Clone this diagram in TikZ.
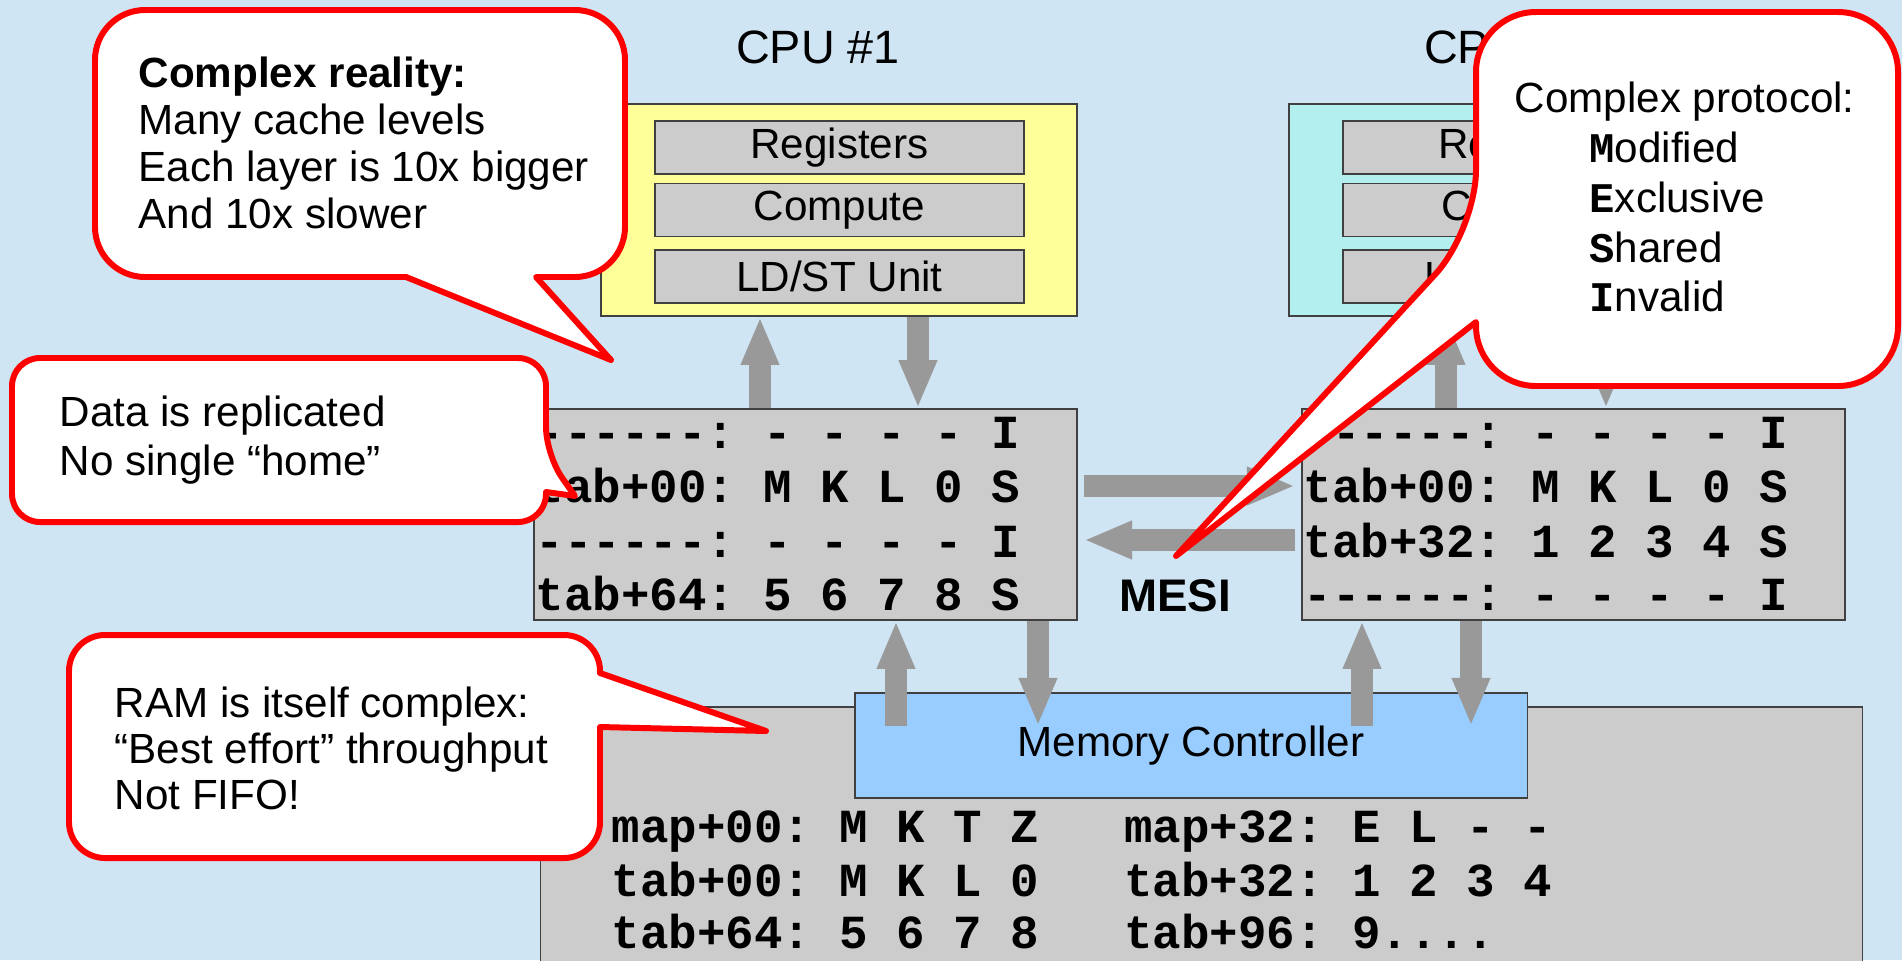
\documentclass[tikz,border=0pt]{standalone}
\usepackage{fontspec}
\setmainfont{Liberation Sans}
\setmonofont{Liberation Mono}
\usetikzlibrary{arrows.meta,positioning}
\definecolor{slidebg}{HTML}{CFE5F3}
\definecolor{cpuyellow}{HTML}{FFFF99}
\definecolor{cpucyan}{HTML}{B4EFEF}
\definecolor{unitgray}{HTML}{CCCCCC}
\definecolor{busgray}{HTML}{999999}
\definecolor{mcblue}{HTML}{99CCFF}
\definecolor{calloutred}{HTML}{FF0000}
\tikzset{%
  cpu/.style={draw=black!75,line width=0.4pt,minimum width=4.76cm,minimum height=2.12cm},
  unit/.style={draw=black!75,fill=unitgray,line width=0.4pt,inner sep=0pt,
    minimum width=3.69cm,minimum height=0.53cm,font=\fontsize{12}{14}\selectfont},
  cache/.style={draw=black!75,fill=unitgray,line width=0.4pt,minimum width=5.43cm,minimum height=2.11cm},
  row/.style={anchor=base west,inner sep=0pt,font=\ttfamily\bfseries\fontsize{13.5}{15}\selectfont},
  title/.style={inner sep=0pt,font=\fontsize{13.3}{15}\selectfont},
  bus/.style={draw=busgray,line width=6.3pt,-{Triangle[length=13.7pt,width=10pt]}},
  callout/.style={draw=calloutred,fill=white,line width=1.7pt,line join=round},
  note/.style={anchor=west,align=left,inner sep=0pt},
}

\begin{document}
\begin{tikzpicture}[x=0.01cm,y=-0.01cm]
  \useasboundingbox (0,0) rectangle (1902,960);
  \fill[slidebg] (0,0) rectangle (1902,960);
  \clip (0,0) rectangle (1902,960);

  % the two cores
  \node[cpu,fill=cpuyellow] (cpu1) at (839,210) {};
  \node[cpu,fill=cpucyan] (cpu2) at (1527,210) {};
  \node[title,anchor=base] (cpu1lbl) at (818,63) {CPU \#1};
  \node[title,anchor=base] (cpu2lbl) at (1506,63) {CPU \#2};
  \node[unit] (reg1) at (839.5,147.5) {Registers};
  \node[unit,below=0.08cm of reg1] (cmp1) {Compute};
  \node[unit,below=0.12cm of cmp1] (ldst1) {LD/ST Unit};
  \node[unit] (reg2) at (1527.5,147.5) {Registers};
  \node[unit,below=0.08cm of reg2] (cmp2) {Compute};
  \node[unit,below=0.12cm of cmp2] (ldst2) {LD/ST Unit};

  % caches
  \node[cache] (cache1) at (805.5,514.5) {};
  \node[cache] (cache2) at (1573.5,514.5) {};
  \node[row] (c1r1) at (535,448) {------: - - - - I};
  \node[row] (c1r2) at (535,502) {tab+00: M K L 0 S};
  \node[row] (c1r3) at (535,557) {------: - - - - I};
  \node[row] (c1r4) at (535,610) {tab+64: 5 6 7 8 S};
  \node[row] (c2r1) at (1303,448) {------: - - - - I};
  \node[row] (c2r2) at (1303,502) {tab+00: M K L 0 S};
  \node[row] (c2r3) at (1303,557) {tab+32: 1 2 3 4 S};
  \node[row] (c2r4) at (1303,610) {------: - - - - I};

  % main memory
  \node[draw=black!75,fill=unitgray,line width=0.4pt,minimum width=13.21cm,minimum height=3cm] (ram) at (1201.5,857) {};
  \node[draw=black!75,fill=mcblue,line width=0.4pt,minimum width=6.72cm,minimum height=1.05cm,
    font=\fontsize{12}{14}\selectfont] (mc) at (1191,745.5) {Memory Controller};
  \node[row] (ram1) at (611,842) {map+00: M K T Z~~~map+32: E L - -};
  \node[row] (ram2) at (611,896) {tab+00: M K L 0~~~tab+32: 1 2 3 4};
  \node[row] (ram3) at (611,948) {tab+64: 5 6 7 8~~~tab+96: 9....};
  \coordinate (mcin) at (0,726);

  \draw[bus] (760,0 |- cache1.north) -- (760,0 |- cpu1.south);
  \draw[bus] (918,0 |- cpu1.south) -- (918,0 |- cache1.north);
  \draw[bus] (1446,0 |- cache2.north) -- (1446,0 |- cpu2.south);
  \draw[bus] (1606,0 |- cpu2.south) -- (1606,0 |- cache2.north);
  \draw[bus] (896,0 |- mcin) -- (896,0 |- cache1.south);
  \draw[bus] (1038,0 |- cache1.south) -- (1038,0 |- mcin);
  \draw[bus] (1362,0 |- mcin) -- (1362,0 |- cache2.south);
  \draw[bus] (1471,0 |- cache2.south) -- (1471,0 |- mcin);
  \draw[bus,shorten <=0.06cm,shorten >=0.06cm] (cache1.east |- 0,486) -- (cache2.west |- 0,486);
  \draw[bus,shorten <=0.06cm,shorten >=0.06cm] (cache2.west |- 0,540) -- (cache1.east |- 0,540);
  \node[font=\bfseries\fontsize{13}{15}\selectfont] (mesi) at (1175,596) {MESI};

  % callouts
  \draw[callout] (406,277) [rounded corners=0.5cm] -- (95,277) -- (95,10) -- (625,10) -- (625,277)
    [sharp corners] -- (536,277) -- (611,360) -- cycle;
  \node[note,font=\fontsize{12}{13.3}\selectfont] (reality) at (138,143)
    {\textbf{Complex reality:}\\Many cache levels\\Each layer is 10x bigger\\And 10x slower};

  \draw[callout] (546,455) -- (575,496) -- (546,492) [rounded corners=0.28cm] -- (546,522) -- (12,522)
    -- (12,358) -- (546,358) -- cycle;
  \node[note,font=\fontsize{12}{14}\selectfont] (replica) at (59,440)
    {Data is replicated\\No single “home”};

  \draw[callout] (1476,230) -- (1176,556) -- (1476,322) [rounded corners=0.6cm] -- (1476,386)
    -- (1898,386) -- (1898,12) -- (1476,12) -- cycle;
  \node[note,font=\fontsize{12}{14.2}\selectfont] (protocol) at (1514,197)
    {Complex protocol:\\
     \hspace*{21.3pt}{\ttfamily\bfseries M}odified\\
     \hspace*{21.3pt}{\ttfamily\bfseries E}xclusive\\
     \hspace*{21.3pt}{\ttfamily\bfseries S}hared\\
     \hspace*{21.3pt}{\ttfamily\bfseries I}nvalid};

  \draw[callout] (600,727) [rounded corners=0.36cm] -- (600,858) -- (69,858) -- (69,635) -- (600,635)
    [sharp corners] -- (600,673) -- (766,731) -- cycle;
  \node[note,font=\fontsize{12}{13.1}\selectfont] (ramnote) at (114,748)
    {RAM is itself complex:\\“Best effort” throughput\\Not FIFO!};
\end{tikzpicture}
\end{document}
